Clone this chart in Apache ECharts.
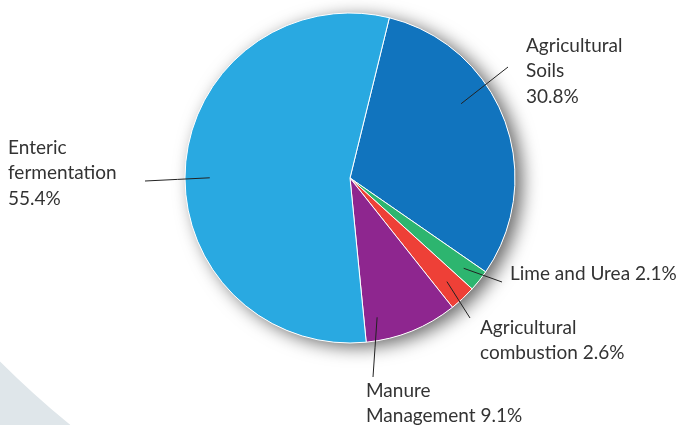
<!DOCTYPE html>
<html>
<head>
<meta charset="utf-8">
<script src="https://cdn.jsdelivr.net/npm/echarts@6/dist/echarts.min.js"></script>
<style>
  html, body { margin: 0; padding: 0; background: #fff; }
  #chart { width: 680px; height: 425px; }
</style>
</head>
<body>
<div id="chart"></div>
<script>
// slices, clockwise from just right of 12 o'clock
const categories = ['Agricultural\nSoils', 'Lime and Urea', 'Agricultural\ncombustion', 'Manure\nManagement', 'Enteric\nfermentation'];
const values = [30.8, 2.1, 2.6, 9.1, 55.4];
// percent goes on its own line for these
const pctOnNewLine = [true, false, false, false, true];

const colors = ['#1174be', '#2db56f', '#ee4037', '#8e268f', '#29a9e1'];

const CX = 350, CY = 178, R = 165;

// label block top-left, leader line end, and how deep / how turned the line starts inside its slice
const labelPos = [
  { x: 526, y: 33, end: [508, 67], depth: 0.81, turn: -13 },
  { x: 510, y: 261, end: [502, 282], depth: 0.88, turn: 0 },
  { x: 480, y: 315, end: [470, 318], depth: 0.86, turn: 0 },
  { x: 366, y: 378, end: [373, 377], depth: 0.86, turn: 11 },
  { x: 8, y: 135, end: [145, 181], depth: 0.85, turn: -4 }
];

const chart = echarts.init(document.getElementById('chart'));

const pieData = categories.map((name, i) => ({
  name: name,
  value: values[i],
  itemStyle: { color: colors[i] }
}));

const option = {
  animation: false,
  textStyle: { fontFamily: 'Lato' },
  graphic: [
    {
      type: 'ring',
      z: -10,
      silent: true,
      shape: { cx: 671, cy: -311, r: 2000, r0: 950 },
      style: { fill: '#dfe6ea' }
    }
  ],
  series: [
    {
      // white disc behind the pie, only there for the drop shadow
      type: 'pie',
      silent: true,
      z: 1,
      center: [CX, CY],
      radius: R,
      label: { show: false },
      labelLine: { show: false },
      itemStyle: {
        color: '#fff',
        shadowBlur: 18,
        shadowColor: 'rgba(0,0,0,0.6)',
        shadowOffsetX: 7,
        shadowOffsetY: 4
      },
      data: [{ value: 1 }]
    },
    {
      type: 'pie',
      z: 3,
      center: [CX, CY],
      radius: R,
      startAngle: 76.2,
      clockwise: true,
      emphasis: { disabled: true },
      itemStyle: { borderColor: '#fff', borderWidth: 1 },
      label: { show: false },
      labelLine: { show: false },
      data: pieData
    },
    {
      // same slices, transparent, on top: carries the labels so the leader lines show over the pie
      type: 'pie',
      z: 4,
      silent: true,
      center: [CX, CY],
      radius: R,
      startAngle: 76.2,
      clockwise: true,
      avoidLabelOverlap: false,
      emphasis: { disabled: true },
      itemStyle: { color: 'rgba(0,0,0,0)', borderWidth: 0 },
      label: {
        show: true,
        position: 'outside',
        color: '#333',
        fontSize: 19,
        lineHeight: 25.5,
        align: 'left',
        formatter: p => p.name + (pctOnNewLine[p.dataIndex] ? '\n' : ' ') + p.value + '%'
      },
      labelLine: {
        show: true,
        lineStyle: { color: '#222', width: 1 }
      },
      labelLayout: params => {
        const lp = labelPos[params.dataIndex];
        const edge = params.labelLinePoints[0];
        const ang = Math.atan2(edge[1] - CY, edge[0] - CX) + lp.turn * Math.PI / 180;
        const start = [CX + Math.cos(ang) * R * lp.depth, CY + Math.sin(ang) * R * lp.depth];
        const mid = [(start[0] + lp.end[0]) / 2, (start[1] + lp.end[1]) / 2];
        return {
          x: lp.x,
          y: lp.y,
          align: 'left',
          verticalAlign: 'top',
          labelLinePoints: [start, mid, lp.end]
        };
      },
      data: categories.map((name, i) => ({ name: name, value: values[i] }))
    }
  ]
};

chart.setOption(option);
</script>
</body>
</html>
